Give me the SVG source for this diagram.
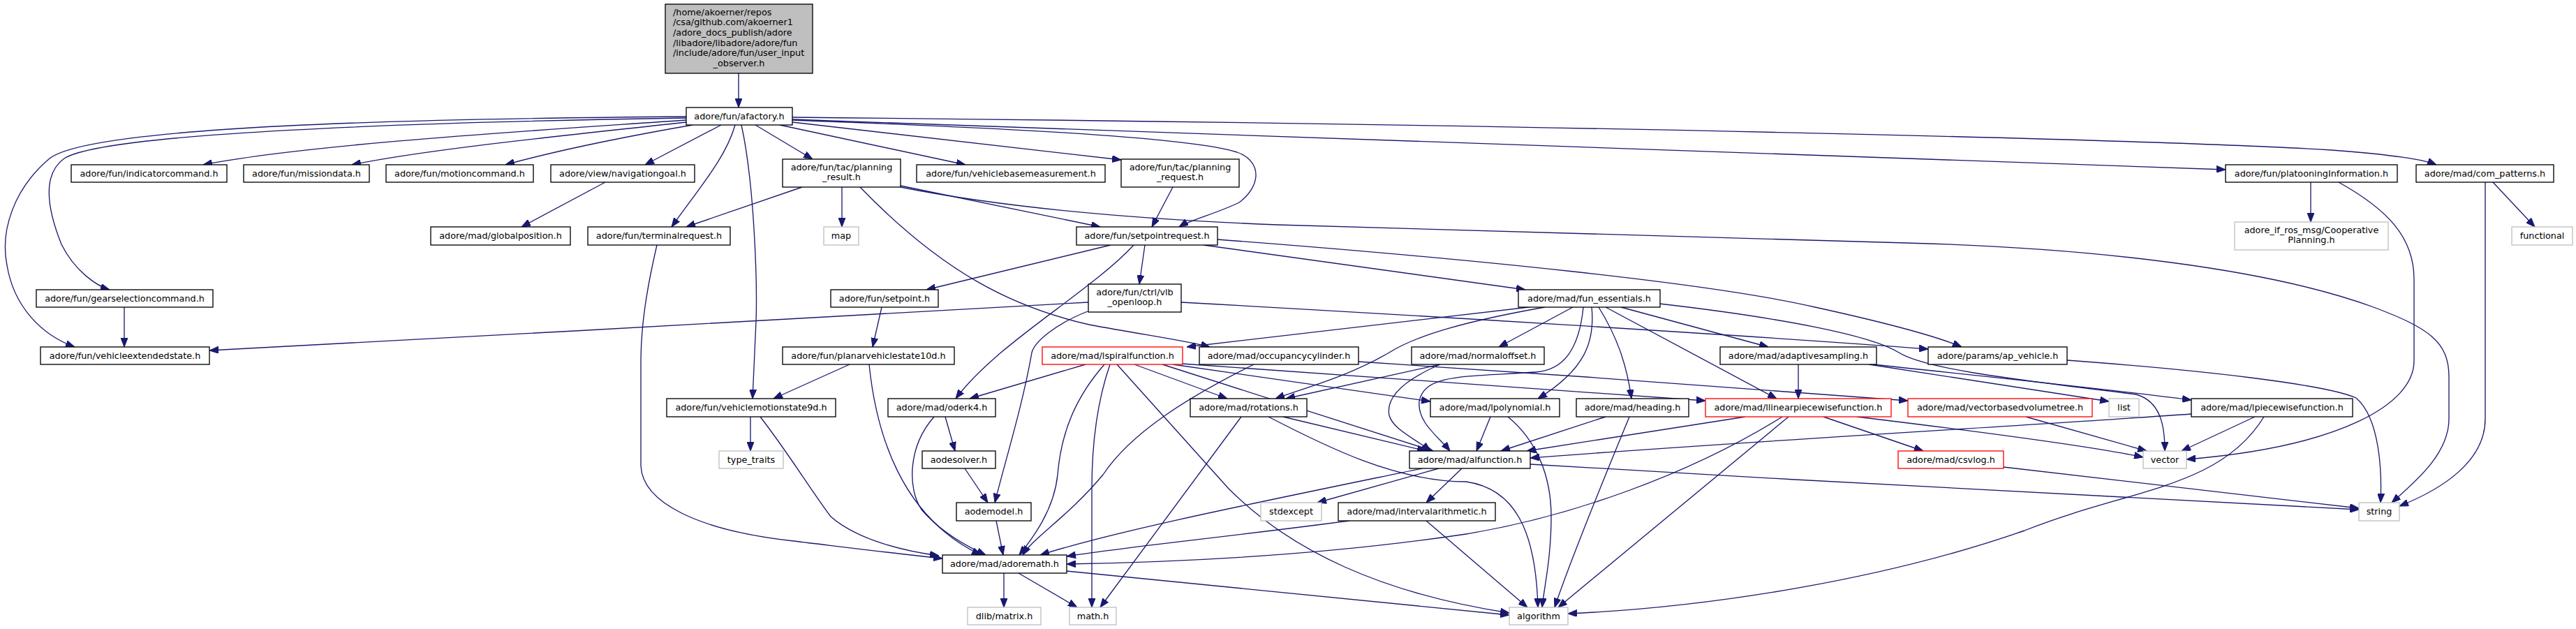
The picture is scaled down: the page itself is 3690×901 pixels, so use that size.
<svg xmlns="http://www.w3.org/2000/svg" width="3690" height="901" viewBox="0 0 3690 901">
<style>
rect{fill:#fff;stroke:#000;stroke-width:1.33}
.g rect{stroke:#bfbfbf}
.r rect{stroke:#ff0000}
.root rect{fill:#bfbfbf}
text{font-family:"DejaVu Sans",sans-serif;font-size:12.8px;fill:#000;text-anchor:middle}
.l{text-anchor:start}
#edges path{fill:none;stroke:#191970;stroke-width:1.33;marker-end:url(#a)}
</style>
<defs>
<marker id="a" markerUnits="userSpaceOnUse" markerWidth="13" markerHeight="10" viewBox="0 0 13 10" refX="13" refY="5" orient="auto"><path d="M0,0 L13,5 L0,10 z" fill="#191970" stroke="#191970" stroke-width="1"/></marker>
</defs>
<rect x="0" y="0" width="3690" height="901" style="fill:#fff;stroke:none"/>
<g id="edges">
<path d="M1058,105 L1058,154"/>
<path d="M983,172 C800,185 450,205 291,236"/>
<path d="M983,175 C850,190 620,212 504,236"/>
<path d="M992,179 C900,195 800,215 724,236"/>
<path d="M1033,179 L924,236"/>
<path d="M1082,179 L1164,228"/>
<path d="M1117,179 L1383,236"/>
<path d="M1135,175 L1606,229"/>
<path d="M1135,172 C1400,182 1700,195 1772,218 C1810,232 1805,268 1775,290 C1745,305 1705,315 1689,325"/>
<path d="M1053,179 C1040,225 1005,265 962,325"/>
<path d="M1062,179 C1080,260 1085,400 1083,460 L1078,571"/>
<path d="M983,169 C600,175 150,190 92,227 C60,250 68,300 88,350 C108,390 140,410 157,415"/>
<path d="M983,167 C600,170 130,180 71,227 C20,270 0,330 10,380 C20,440 60,480 107,497"/>
<path d="M1135,171 C2000,195 2800,225 3188,243"/>
<path d="M1135,168 C2200,178 3100,200 3340,215 C3430,222 3470,228 3490,236"/>
<path d="M1149,268 L983,325"/>
<path d="M1206,268 L1206,325"/>
<path d="M1232,268 C1350,390 1450,440 1560,465 C1640,480 1700,488 1733,497"/>
<path d="M1290,266 L1576,325"/>
<path d="M1290,268 C1450,300 1650,315 1830,322 L2730,348 C3000,355 3250,385 3400,440 C3480,470 3508,490 3508,540 L3508,600 C3508,650 3460,690 3426,720"/>
<path d="M1680,268 L1650,325"/>
<path d="M1591,351 L1327,415"/>
<path d="M1640,351 L1632,407"/>
<path d="M1624,351 C1560,420 1430,490 1369,571"/>
<path d="M1724,351 L2185,415"/>
<path d="M1744,343 C2100,370 2450,405 2600,440 C2700,462 2770,480 2810,497"/>
<path d="M1559,433 C1200,455 700,480 300,502"/>
<path d="M1692,433 C2000,450 2500,480 2762,500"/>
<path d="M1558,446 C1510,465 1482,490 1478,505 C1465,580 1440,660 1425,720"/>
<path d="M1263,440 L1250,497"/>
<path d="M2190,440 L1700,497"/>
<path d="M2213,440 C2100,460 2030,480 1990,505 C1930,540 1870,555 1827,571"/>
<path d="M2253,440 L2147,497"/>
<path d="M2268,440 C2262,500 2240,530 2200,533 C2100,540 2040,535 2033,575 C2030,605 2060,625 2077,646"/>
<path d="M2280,440 C2285,490 2270,530 2203,571"/>
<path d="M2290,440 C2315,480 2330,520 2337,571"/>
<path d="M2300,440 L2545,571"/>
<path d="M2322,440 L2533,497"/>
<path d="M2377,435 C2550,455 2680,480 2720,505 C2760,530 2900,545 3060,565 C3095,575 3101,610 3101,646"/>
<path d="M1555,522 L1389,571"/>
<path d="M1582,522 C1540,570 1520,620 1515,680 C1510,730 1480,770 1460,795"/>
<path d="M1590,522 C1570,580 1564,640 1564,700 L1564,870"/>
<path d="M1600,522 L1760,700 C1850,790 1980,850 2162,878"/>
<path d="M1625,522 L1758,571"/>
<path d="M1665,522 L2053,646"/>
<path d="M1680,522 L2049,575"/>
<path d="M1693,521 L2443,574"/>
<path d="M1796,522 C1700,570 1620,620 1580,680 C1530,740 1480,770 1465,795"/>
<path d="M1946,518 C2200,535 2500,555 2733,574"/>
<path d="M2063,522 L1842,571"/>
<path d="M2063,522 C2010,545 1985,570 1990,595 C1995,615 2030,630 2049,646"/>
<path d="M2576,522 L2576,571"/>
<path d="M2677,522 L3021,575"/>
<path d="M2683,522 C2850,540 3000,555 3139,573"/>
<path d="M2961,516 C3150,530 3330,550 3375,570 C3410,600 3412,680 3410,720"/>
<path d="M1075,597 L1075,646"/>
<path d="M1089,597 C1130,650 1160,700 1190,740 C1230,775 1300,790 1345,796"/>
<path d="M1217,522 L1108,571"/>
<path d="M1245,522 C1255,620 1290,740 1405,795"/>
<path d="M1354,597 L1368,646"/>
<path d="M1338,597 C1300,640 1300,700 1320,730 C1350,765 1390,785 1412,795"/>
<path d="M1382,671 L1415,720"/>
<path d="M1427,746 L1437,795"/>
<path d="M1438,821 L1438,870"/>
<path d="M1459,821 L1543,870"/>
<path d="M1528,818 L2162,881"/>
<path d="M941,351 C925,420 918,470 918,520 L918,667 C920,720 1000,760 1137,775 C1220,785 1300,795 1350,800"/>
<path d="M867,261 L747,325"/>
<path d="M178,440 L178,497"/>
<path d="M1838,597 L2043,646"/>
<path d="M1817,597 C1900,640 2000,690 2100,690 C2170,700 2200,760 2203,870"/>
<path d="M1778,597 L1576,870"/>
<path d="M2135,597 L2115,646"/>
<path d="M2160,597 C2200,630 2222,680 2222,740 C2222,800 2212,840 2209,870"/>
<path d="M2300,597 L2150,646"/>
<path d="M2334,597 C2300,680 2250,800 2227,870"/>
<path d="M2500,597 L2187,646"/>
<path d="M2553,597 C2420,680 2250,740 2100,765 C1900,795 1700,805 1528,808"/>
<path d="M2562,597 L2232,870"/>
<path d="M2612,597 L2755,646"/>
<path d="M2660,597 C2850,620 3000,640 3070,655"/>
<path d="M2902,597 L3075,646"/>
<path d="M3230,597 L3125,646"/>
<path d="M3139,593 C2900,610 2500,632 2192,656"/>
<path d="M3243,597 C3180,700 3050,700 2900,760 C2700,830 2450,870 2246,879"/>
<path d="M2037,671 C1800,720 1600,760 1490,795"/>
<path d="M2061,671 L1887,720"/>
<path d="M2094,671 L2043,720"/>
<path d="M2192,665 C2600,690 3100,715 3379,730"/>
<path d="M1933,746 C1750,770 1600,785 1528,797"/>
<path d="M2043,746 L2188,870"/>
<path d="M2870,669 L3379,728"/>
<path d="M3310,261 L3310,318"/>
<path d="M3350,261 C3420,300 3458,340 3458,400 L3458,517 C3458,580 3350,640 3132,658"/>
<path d="M3571,261 L3631,325"/>
<path d="M3560,261 L3560,600 C3560,660 3500,700 3437,725"/>
</g>
<g id="n_root" class="root"><rect x="953" y="6" width="211" height="99"/><text class="l" x="964" y="21.7">/home/akoerner/repos</text><text class="l" x="964" y="36.3">/csa/github.com/akoerner1</text><text class="l" x="964" y="50.9">/adore_docs_publish/adore</text><text class="l" x="964" y="65.5">/libadore/libadore/adore/fun</text><text class="l" x="964" y="80.1">/include/adore/fun/user_input</text><text x="1058.5" y="94.7">_observer.h</text></g>
<g id="n_afactory"><rect x="983" y="154" width="152" height="25"/><text x="1059" y="170.5">adore/fun/afactory.h</text></g>
<g id="n_indicatorcommand"><rect x="102" y="236" width="223" height="25"/><text x="213.5" y="252.5">adore/fun/indicatorcommand.h</text></g>
<g id="n_missiondata"><rect x="349" y="236" width="180" height="25"/><text x="439" y="252.5">adore/fun/missiondata.h</text></g>
<g id="n_motioncommand"><rect x="553" y="236" width="211" height="25"/><text x="658.5" y="252.5">adore/fun/motioncommand.h</text></g>
<g id="n_navigationgoal"><rect x="789" y="236" width="206" height="25"/><text x="892" y="252.5">adore/view/navigationgoal.h</text></g>
<g id="n_planning_result"><rect x="1121" y="228" width="169" height="40"/><text x="1205.5" y="243.7">adore/fun/tac/planning</text><text x="1205.5" y="258.3">_result.h</text></g>
<g id="n_vehiclebasemeasurement"><rect x="1313" y="236" width="270" height="25"/><text x="1448" y="252.5">adore/fun/vehiclebasemeasurement.h</text></g>
<g id="n_planning_request"><rect x="1606" y="228" width="169" height="40"/><text x="1690.5" y="243.7">adore/fun/tac/planning</text><text x="1690.5" y="258.3">_request.h</text></g>
<g id="n_platooninginformation"><rect x="3188" y="236" width="246" height="25"/><text x="3311" y="252.5">adore/fun/platooningInformation.h</text></g>
<g id="n_com_patterns"><rect x="3461" y="236" width="197" height="25"/><text x="3559.5" y="252.5">adore/mad/com_patterns.h</text></g>
<g id="n_globalposition"><rect x="617" y="325" width="200" height="26"/><text x="717" y="341.5">adore/mad/globalposition.h</text></g>
<g id="n_terminalrequest"><rect x="842" y="325" width="204" height="26"/><text x="944" y="341.5">adore/fun/terminalrequest.h</text></g>
<g id="n_map" class="g"><rect x="1180" y="325" width="50" height="26"/><text x="1205" y="341.5">map</text></g>
<g id="n_setpointrequest"><rect x="1542" y="325" width="202" height="26"/><text x="1643" y="341.5">adore/fun/setpointrequest.h</text></g>
<g id="n_cooperativeplanning" class="g"><rect x="3201" y="318" width="220" height="40"/><text x="3311" y="333.7">adore_if_ros_msg/Cooperative</text><text x="3311" y="348.3">Planning.h</text></g>
<g id="n_functional" class="g"><rect x="3598" y="325" width="87" height="26"/><text x="3641.5" y="341.5">functional</text></g>
<g id="n_gearselectioncommand"><rect x="52" y="415" width="253" height="25"/><text x="178.5" y="431.5">adore/fun/gearselectioncommand.h</text></g>
<g id="n_setpoint"><rect x="1190" y="415" width="154" height="25"/><text x="1267" y="431.5">adore/fun/setpoint.h</text></g>
<g id="n_vlb_openloop"><rect x="1559" y="407" width="133" height="40"/><text x="1625.5" y="422.7">adore/fun/ctrl/vlb</text><text x="1625.5" y="437.3">_openloop.h</text></g>
<g id="n_fun_essentials"><rect x="2175" y="415" width="203" height="25"/><text x="2276.5" y="431.5">adore/mad/fun_essentials.h</text></g>
<g id="n_vehicleextendedstate"><rect x="58" y="497" width="242" height="25"/><text x="179" y="513.5">adore/fun/vehicleextendedstate.h</text></g>
<g id="n_planarvehiclestate10d"><rect x="1121" y="497" width="246" height="25"/><text x="1244" y="513.5">adore/fun/planarvehiclestate10d.h</text></g>
<g id="n_lspiralfunction" class="r"><rect x="1493" y="497" width="201" height="25"/><text x="1593.5" y="513.5">adore/mad/lspiralfunction.h</text></g>
<g id="n_occupancycylinder"><rect x="1718" y="497" width="228" height="25"/><text x="1832" y="513.5">adore/mad/occupancycylinder.h</text></g>
<g id="n_normaloffset"><rect x="2022" y="497" width="190" height="25"/><text x="2117" y="513.5">adore/mad/normaloffset.h</text></g>
<g id="n_adaptivesampling"><rect x="2464" y="497" width="224" height="25"/><text x="2576" y="513.5">adore/mad/adaptivesampling.h</text></g>
<g id="n_ap_vehicle"><rect x="2762" y="497" width="199" height="25"/><text x="2861.5" y="513.5">adore/params/ap_vehicle.h</text></g>
<g id="n_vehiclemotionstate9d"><rect x="955" y="571" width="242" height="26"/><text x="1076" y="587.5">adore/fun/vehiclemotionstate9d.h</text></g>
<g id="n_oderk4"><rect x="1272" y="571" width="154" height="26"/><text x="1349" y="587.5">adore/mad/oderk4.h</text></g>
<g id="n_rotations"><rect x="1705" y="571" width="167" height="26"/><text x="1788.5" y="587.5">adore/mad/rotations.h</text></g>
<g id="n_lpolynomial"><rect x="2049" y="571" width="185" height="26"/><text x="2141.5" y="587.5">adore/mad/lpolynomial.h</text></g>
<g id="n_heading"><rect x="2258" y="571" width="161" height="26"/><text x="2338.5" y="587.5">adore/mad/heading.h</text></g>
<g id="n_llinearpiecewisefunction" class="r"><rect x="2443" y="571" width="266" height="26"/><text x="2576" y="587.5">adore/mad/llinearpiecewisefunction.h</text></g>
<g id="n_vectorbasedvolumetree" class="r"><rect x="2733" y="571" width="264" height="26"/><text x="2865" y="587.5">adore/mad/vectorbasedvolumetree.h</text></g>
<g id="n_list" class="g"><rect x="3021" y="571" width="43" height="26"/><text x="3042.5" y="587.5">list</text></g>
<g id="n_lpiecewisefunction"><rect x="3139" y="571" width="231" height="26"/><text x="3254.5" y="587.5">adore/mad/lpiecewisefunction.h</text></g>
<g id="n_type_traits" class="g"><rect x="1030" y="646" width="92" height="25"/><text x="1076" y="662.5">type_traits</text></g>
<g id="n_aodesolver"><rect x="1321" y="646" width="105" height="25"/><text x="1373.5" y="662.5">aodesolver.h</text></g>
<g id="n_alfunction"><rect x="2019" y="646" width="173" height="25"/><text x="2105.5" y="662.5">adore/mad/alfunction.h</text></g>
<g id="n_csvlog" class="r"><rect x="2719" y="646" width="151" height="25"/><text x="2794.5" y="662.5">adore/mad/csvlog.h</text></g>
<g id="n_vector" class="g"><rect x="3070" y="646" width="62" height="25"/><text x="3101" y="662.5">vector</text></g>
<g id="n_aodemodel"><rect x="1370" y="720" width="107" height="26"/><text x="1423.5" y="736.5">aodemodel.h</text></g>
<g id="n_stdexcept" class="g"><rect x="1806" y="720" width="87" height="26"/><text x="1849.5" y="736.5">stdexcept</text></g>
<g id="n_intervalarithmetic"><rect x="1917" y="720" width="225" height="26"/><text x="2029.5" y="736.5">adore/mad/intervalarithmetic.h</text></g>
<g id="n_string" class="g"><rect x="3379" y="720" width="58" height="26"/><text x="3408" y="736.5">string</text></g>
<g id="n_adoremath"><rect x="1350" y="795" width="178" height="26"/><text x="1439" y="811.5">adore/mad/adoremath.h</text></g>
<g id="n_dlib_matrix" class="g"><rect x="1386" y="870" width="105" height="25"/><text x="1438.5" y="886.5">dlib/matrix.h</text></g>
<g id="n_math" class="g"><rect x="1532" y="870" width="67" height="25"/><text x="1565.5" y="886.5">math.h</text></g>
<g id="n_algorithm" class="g"><rect x="2162" y="870" width="84" height="25"/><text x="2204" y="886.5">algorithm</text></g>
</svg>
